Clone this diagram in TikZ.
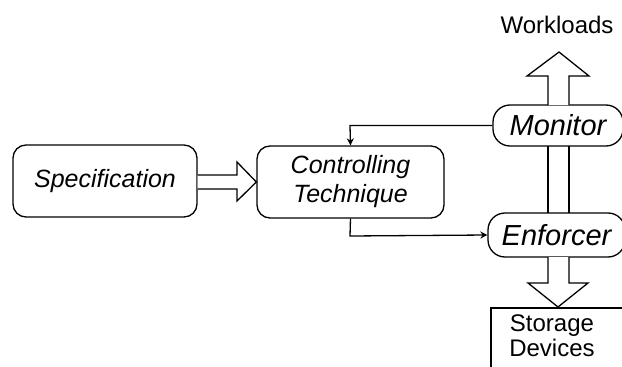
\documentclass[tikz,border=0pt]{standalone}
\usepackage{fontspec}
\setmainfont{Liberation Sans}
\usetikzlibrary{arrows.meta}
\begin{document}
\begin{tikzpicture}[x=1pt,y=-1pt,
  lw/.style={line width=1.3pt},
  box/.style={lw,draw,rounded corners=13pt,inner sep=0pt,font=\itshape\fontsize{25}{29}\selectfont,align=center},
  pill/.style={lw,draw,rounded corners=17pt,inner sep=0pt,font=\itshape\fontsize{29}{32}\selectfont},
  plain/.style={inner sep=0pt,font=\fontsize{24}{26}\selectfont,align=center},
  conn/.style={lw,-{Stealth[length=7pt,width=7pt]}},
  fat/.style={lw,fill=white,line join=miter}]
\useasboundingbox (0,0) rectangle (622,367);
\clip (0,0) rectangle (622,367);
\node[box,minimum width=184pt,minimum height=72pt] (spec) at (105,181) {Specification};
\node[box,minimum width=187pt,minimum height=72pt] (ctrl) at (350.5,182) {Controlling\\Technique};
\node[pill,minimum width=130pt,minimum height=41pt] (mon) at (558,125.5) {Monitor};
\node[pill,minimum width=137pt,minimum height=44pt] (enf) at (556.5,235) {Enforcer};
\node[plain] (wl) at (557,25) {Workloads};
\node[plain] (sto) at (552,336) {Storage\\[-1pt]Devices};
\coordinate (stoTL) at (491,308);
\draw[lw] (491,372) -- (stoTL) -- (630,308);
% fat arrow spec -> ctrl
\draw[fat] (spec.east |- 0,175) -- (237,175) -- (237,162) -- (ctrl.west) -- (237,201) -- (237,189) -- (spec.east |- 0,189);
% fat up arrow workloads
\draw[fat] (548,105) -- (548,76) -- (527,76) -- (559,52) -- (589,76) -- (569,76) -- (569,105);
% shaft between monitor and enforcer
\draw[lw] (548,146) -- (548,213);
\draw[lw] (569,146) -- (569,213);
% fat down arrow to storage
\draw[fat] (548,257) -- (548,283) -- (528,283) -- (558,307) -- (588,283) -- (569,283) -- (569,257);
% thin connectors
\draw[conn] (mon.west) -- (350,125.5) -- (ctrl.north);
\draw[conn] (ctrl.south) -- (350,236) -- (enf.west);
\end{tikzpicture}
\end{document}
